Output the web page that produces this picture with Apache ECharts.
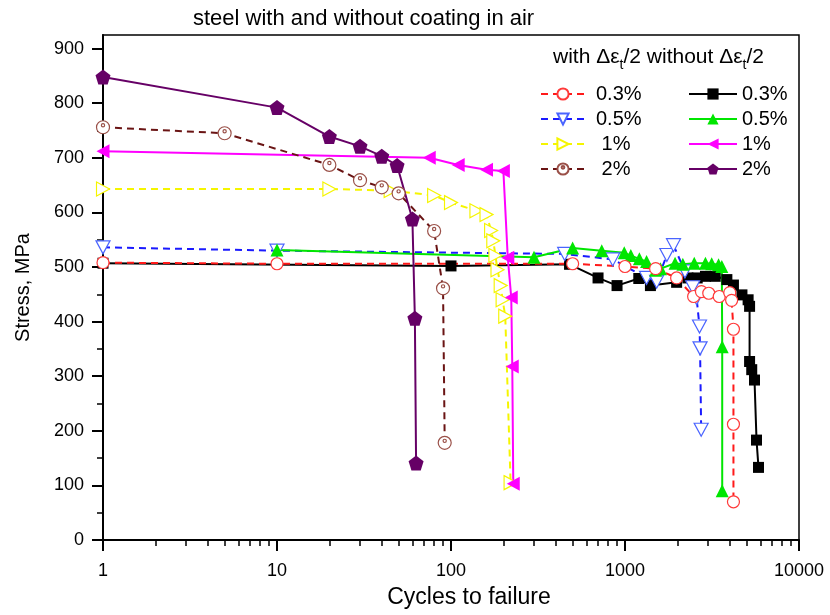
<!DOCTYPE html>
<html>
<head>
<meta charset="utf-8">
<script src="https://cdn.jsdelivr.net/npm/echarts@6/dist/echarts.min.js"></script>
<style>
  html, body { margin: 0; padding: 0; background: #fff; }
  #chart { width: 830px; height: 615px; }
</style>
</head>
<body>
<div id="chart"></div>
<script>
// cycles, stress (MPa)
var with03 = [[1,508],[10,506],[500,506],[1000,501],[1500,497],[1980,480],[2480,446],[2750,455],[3030,452],[3480,446],[4000,453],[4100,439],[4200,386],[4200,212],[4200,70]];
var without03 = [[1,507],[100,502],[480,505],[700,480],[900,466],[1200,479],[1400,466],[1980,472],[2300,480],[2600,480],[2900,483],[3300,483],[3850,477],[4200,467],[4700,449],[5100,440],[5200,428],[5200,327],[5350,312],[5550,293],[5700,183],[5850,133]];
var with05 = [[1,536],[10,530],[450,524],[850,514],[1330,480],[1520,473],[1740,522],[1900,540],[2210,492],[2450,463],[2580,443],[2680,391],[2700,351],[2740,202]];
var without05 = [[10,531],[300,518],[500,535],[735,530],[990,526],[1080,521],[1210,515],[1330,510],[1500,494],[1600,497],[1940,507],[2150,505],[2500,507],[2900,507],[3150,506],[3450,504],[3600,501],[3620,354],[3620,90]];
var with1 = [[1,643],[20,643],[45,640],[80,631],[100,618],[140,603],[160,596],[170,567],[175,548],[180,521],[185,495],[193,466],[198,440],[205,410],[220,105]];
var without1 = [[1,712],[75,700],[110,687],[160,678],[200,676],[212,517],[222,444],[225,318],[228,103]];
var with2 = [[1,756],[5,745],[20,687],[30,659],[40,646],[50,635],[80,566],[90,461],[92,178]];
var without2 = [[1,848],[10,792],[20,739],[30,721],[40,703],[49,686],[60,588],[62,406],[63,141]];

var xMajor = [1, 10, 100, 1000, 10000];
var xMinor = [2,3,4,5,6,7,8,9,20,30,40,50,60,70,80,90,200,300,400,500,600,700,800,900,2000,3000,4000,5000,6000,7000,8000,9000];
var yMajor = [0,100,200,300,400,500,600,700,800,900];
var yMinor = [50,150,250,350,450,550,650,750,850];

var withNames = ['with 0.3%', 'with 0.5%', 'with 1%', 'with 2%'];
var withoutNames = ['without 0.3%', 'without 0.5%', 'without 1%', 'without 2%'];

var FONT = 'Liberation Sans, Arial, sans-serif';
var DASH = [7, 5];

var downTri = 'path://M0,0L10,0L5,9Z';
var rightTri = 'path://M0,0L9,5L0,10Z';
var leftTri = 'path://M9,0L0,5L9,10Z';
var dotCircle = 'path://M20,10A10,10,0,1,1,0,10A10,10,0,1,1,20,10ZM12.5,7A2.5,2.5,0,1,1,7.5,7A2.5,2.5,0,1,1,12.5,7Z';
var pentagon = 'path://M10,0L19.5,6.9L15.9,18.1L4.1,18.1L0.5,6.9Z';

function mk(name, data, color, dashed, symbol, size, open, markColor) {
  return {
    name: name,
    type: 'line',
    xAxisIndex: 0,
    yAxisIndex: 0,
    data: data,
    symbol: symbol,
    symbolSize: size,
    showAllSymbol: true,
    lineStyle: { color: color, width: 2, type: dashed ? DASH : 'solid' },
    itemStyle: open
      ? { color: '#fff', borderColor: markColor || color, borderWidth: 1.2 }
      : { color: markColor || color, borderColor: markColor || color, borderWidth: 0 },
    emphasis: { disabled: true },
    animation: false
  };
}

var chart = echarts.init(document.getElementById('chart'));
chart.setOption({
  backgroundColor: '#fff',
  animation: false,
  title: {
    text: 'steel with and without coating in air',
    left: 188,
    top: 3,
    textStyle: { fontFamily: FONT, fontSize: 22, fontWeight: 'normal', color: '#000' }
  },
  graphic: [{
    type: 'text',
    left: 553,
    top: 47,
    style: {
      text: 'with Δε{s|t}/2 without Δε{s|t}/2',
      font: '21px ' + FONT,
      fill: '#000',
      rich: { s: { fontSize: 14, fontFamily: FONT, padding: [15, 0, 0, 0] } }
    }
  }],
  legend: [{
    data: withNames,
    orient: 'vertical',
    left: 540,
    top: 84,
    padding: 0,
    itemWidth: 44,
    itemHeight: 14,
    itemGap: 5,
    formatter: function (n) { var t = n.split(' ')[1]; return t.length < 4 ? ' ' + t : t; },
    textStyle: { fontFamily: FONT, fontSize: 20, color: '#000', lineHeight: 20, padding: [0, 0, 0, 6] }
  }, {
    data: withoutNames,
    orient: 'vertical',
    left: 688,
    top: 84,
    padding: 0,
    itemWidth: 48,
    itemHeight: 14,
    itemGap: 5,
    formatter: function (n) { return n.split(' ')[1]; },
    textStyle: { fontFamily: FONT, fontSize: 20, color: '#000', lineHeight: 20, padding: [0, 0, 0, 0] }
  }],
  grid: {
    left: 103,
    right: 31,
    top: 35,
    bottom: 75,
    show: true,
    borderColor: '#000',
    borderWidth: 1.5,
    containLabel: false
  },
  xAxis: [{
    type: 'log',
    logBase: 10,
    min: 1,
    max: 10000,
    name: 'Cycles to failure',
    nameLocation: 'middle',
    nameGap: 46,
    nameTextStyle: { fontFamily: FONT, fontSize: 23, color: '#000', padding: [0, 0, 0, 36] },
    axisLine: { show: true, lineStyle: { color: '#000', width: 2 } },
    axisTick: { show: true, length: 11, lineStyle: { color: '#000', width: 2 }, customValues: xMajor },
    axisLabel: { customValues: xMajor, margin: 22, fontFamily: FONT, fontSize: 18, color: '#000', formatter: function (v) { return String(Math.round(v)); } },
    splitLine: { show: false }
  }, {
    type: 'log',
    logBase: 10,
    min: 1,
    max: 10000,
    position: 'bottom',
    axisLine: { show: false },
    axisTick: { show: true, length: 6, lineStyle: { color: '#000', width: 1.5 }, customValues: xMinor },
    axisLabel: { show: false },
    splitLine: { show: false }
  }],
  yAxis: [{
    type: 'value',
    min: 0,
    max: 925,
    interval: 100,
    name: 'Stress, MPa',
    nameLocation: 'middle',
    nameGap: 70,
    nameTextStyle: { fontFamily: FONT, fontSize: 20, color: '#000' },
    axisLine: { show: true, lineStyle: { color: '#000', width: 2 } },
    axisTick: { show: true, length: 11, lineStyle: { color: '#000', width: 2 }, customValues: yMajor },
    axisLabel: { customValues: yMajor, margin: 19, fontFamily: FONT, fontSize: 18, color: '#000' },
    splitLine: { show: false }
  }, {
    type: 'value',
    min: 0,
    max: 925,
    position: 'left',
    offset: 0,
    axisLine: { show: false },
    axisTick: { show: true, length: 6, lineStyle: { color: '#000', width: 1.5 }, customValues: yMinor },
    axisLabel: { show: false },
    splitLine: { show: false }
  }],
  series: [
    mk('without 0.3%', without03, '#000000', false, 'rect', 11, false),
    mk('with 0.5%', with05, '#1a1aff', true, downTri, [14, 13], true, '#4a64ff'),
    mk('without 0.5%', without05, '#00e600', false, 'triangle', 13, false),
    mk('with 0.3%', with03, '#ff1a1a', true, 'circle', 12, true, '#ff3a3a'),
    mk('with 1%', with1, '#f5f500', true, rightTri, [13, 14], true),
    mk('without 1%', without1, '#ff00ff', false, leftTri, [13, 14], false),
    mk('with 2%', with2, '#6a1414', true, dotCircle, 13, true, '#9a5048'),
    mk('without 2%', without2, '#660066', false, pentagon, 15, false)
  ]
});
</script>
</body>
</html>
